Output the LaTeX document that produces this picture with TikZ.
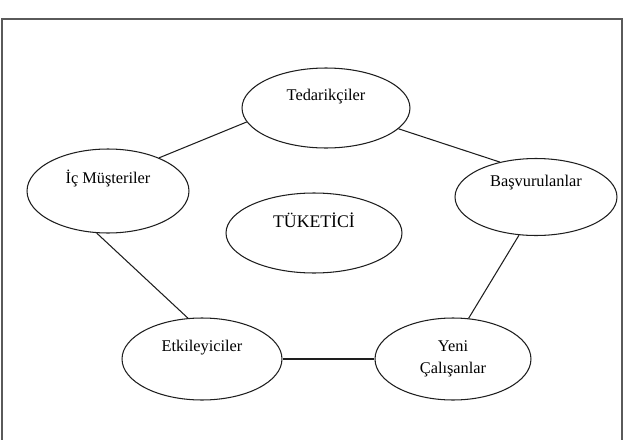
\documentclass[tikz,border=0pt]{standalone}
\usepackage{fontspec}
\setmainfont{Liberation Serif}
\usepackage{tikz}
\usetikzlibrary{shapes.geometric, positioning}
\definecolor{myline}{RGB}{30,30,30}
\definecolor{myframe}{RGB}{90,90,90}
\tikzset{
  oval/.style={ellipse, draw=myline, line width=0.6pt, inner sep=0pt,
    font=\fontsize{9.3}{12.5}\selectfont, align=center,
    text height=7pt, text depth=15.5pt},
  link/.style={line width=0.6pt, color=myline}
}

\begin{document}
\begin{tikzpicture}[x=0.02cm, y=-0.02cm]
  \useasboundingbox (0,0) rectangle (627,440);

  % Frame
  \draw[myframe, line width=0.7pt] (2,440) -- (2,19) -- (622,19) -- (622,440);

  % Nodes
  \node[oval, minimum width=3.36cm, minimum height=1.6cm] (ted) at (326,108) {Tedarikçiler};
  \node[oval, minimum width=3.24cm, minimum height=1.68cm] (ic) at (108,191) {İç Müşteriler};
  \node[oval, minimum width=3.24cm, minimum height=1.54cm, text depth=19pt] (bas) at (536,197) {Başvurulanlar};
  \node[oval, minimum width=3.52cm, minimum height=1.6cm, font=\fontsize{10.1}{12}\selectfont,
    text height=7.5pt, text depth=13.5pt] (tuk) at (314,233) {TÜKETİCİ};
  \node[oval, minimum width=3.2cm, minimum height=1.64cm] (etk) at (202,359) {Etkileyiciler};
  \node[oval, minimum width=3.12cm, minimum height=1.64cm, text height=, text depth=] (yeni) at (453,359) {Yeni\\Çalışanlar};

  % Paths
  \draw[link] (ic.33) -- (ted.190);
  \draw[link] (ted.-16) -- (bas.136);
  \draw[link] (bas.-114) -- (yeni.69);
  \draw[link] (yeni.west) -- (etk.east);
  \draw[link] (etk.109) -- (ic.-105);
\end{tikzpicture}
\end{document}
